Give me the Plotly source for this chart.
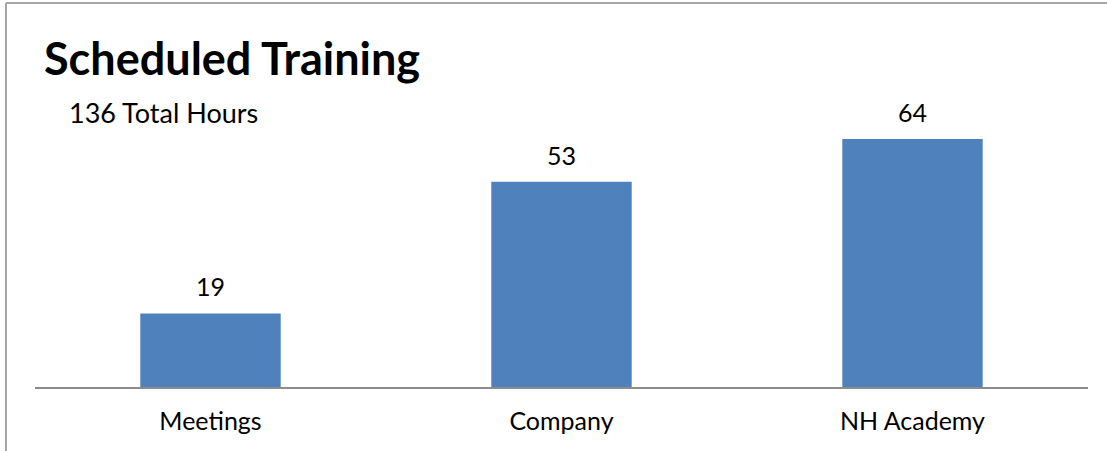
import plotly.graph_objects as go

categories = ["Meetings", "Company", "NH Academy"]
hours = [19, 53, 64]
title_text = "Scheduled Training"
subtitle_text = "136 Total Hours"

W, H = 1107, 451
L, R, B, T = 35, 1088, 387, 100  # plot area in pixels


def px(x):
    return (x - L) / (R - L)


def py(y):
    return (B - y) / (B - T)


FONT = "Lato"
fig = go.Figure(go.Bar(
    x=categories, y=hours,
    marker=dict(color="#4F81BD", line=dict(width=0)),
    width=0.4, hoverinfo="x+y",
))

annotations = [
    dict(text=str(v), x=c, y=v, xref="x", yref="y", yshift=27,
         xanchor="center", yanchor="middle", showarrow=False,
         font=dict(family=FONT, size=25, color="#000000"))
    for c, v in zip(categories, hours)
]
annotations += [
    dict(text="<b>" + title_text + "</b>", x=px(42), y=py(58), xref="paper", yref="paper",
         xanchor="left", yanchor="middle", showarrow=False,
         font=dict(family=FONT, size=45, color="#000000")),
    dict(text=subtitle_text, x=px(67), y=py(113), xref="paper", yref="paper",
         xanchor="left", yanchor="middle", showarrow=False,
         font=dict(family=FONT, size=27, color="#000000")),
]

fig.update_layout(
    width=W, height=H,
    margin=dict(l=L, r=W - R, t=T, b=H - B, pad=0),
    paper_bgcolor="white", plot_bgcolor="white",
    showlegend=False,
    font=dict(family=FONT, color="#000000"),
    xaxis=dict(showline=True, linecolor="#8C8C8C", linewidth=2, ticks="",
               tickfont=dict(family=FONT, size=25, color="#000000"),
               ticklabelstandoff=11,
               showgrid=False, zeroline=False),
    yaxis=dict(range=[0, (B - T) / 3.875], visible=False, showgrid=False,
               zeroline=False),
    annotations=annotations,
    shapes=[
        dict(type="line", xref="paper", yref="paper", x0=px(6), x1=px(W + 5),
             y0=py(3), y1=py(3), line=dict(color="#A6A6A6", width=2)),
        dict(type="line", xref="paper", yref="paper", x0=px(6), x1=px(6),
             y0=py(3), y1=py(H + 5), line=dict(color="#A6A6A6", width=2)),
    ],
)

fig.write_html("out.html", config={"displayModeBar": False},
               post_script="document.body.style.margin='0';document.body.style.overflow='hidden';")
